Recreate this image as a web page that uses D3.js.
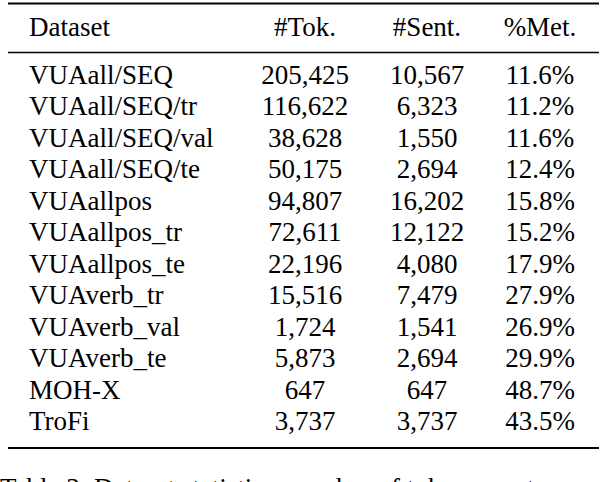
<!DOCTYPE html>
<html lang="en">
	<head>
		<meta charset="utf-8">
		<title>Dataset statistics</title>
		<script type="text/javascript" src="https://cdn.jsdelivr.net/npm/d3@7"></script>
		<style>
			body { margin: 0; background: white; }
			svg text { font-family: "Liberation Serif", "Times New Roman", serif; fill: black; }
		</style>
	</head>
	<body>
		<script type="text/javascript">
			// table data
			var headers = ["Dataset", "#Tok.", "#Sent.", "%Met."];
			var datasets = ["VUAall/SEQ", "VUAall/SEQ/tr", "VUAall/SEQ/val", "VUAall/SEQ/te",
				"VUAallpos", "VUAallpos_tr", "VUAallpos_te", "VUAverb_tr", "VUAverb_val",
				"VUAverb_te", "MOH-X", "TroFi"];
			var tokens = [205425, 116622, 38628, 50175, 94807, 72611, 22196, 15516, 1724, 5873, 647, 3737];
			var sentences = [10567, 6323, 1550, 2694, 16202, 12122, 4080, 7479, 1541, 2694, 647, 3737];
			var metRatio = [11.6, 11.2, 11.6, 12.4, 15.8, 15.2, 17.9, 27.9, 26.9, 29.9, 48.7, 43.5];
			var caption = "Table 3:  Dataset statistics, number of tokens, sentences and metaphor";

			var width = 600, height = 482;
			var fontSize = 27;
			var svg = d3.select("body")
						.append("svg")
						.attr("width", width)
						.attr("height", height);

			// row positions (baselines)
			var y = d3.scalePoint()
					  .domain(d3.range(datasets.length))
					  .range([84, 430]);
			// column anchors: left edge for the first, centres for the rest
			var x = d3.scaleOrdinal()
					  .domain(headers)
					  .range([29, 305, 427, 540]);

			var fmtInt = d3.format(",");
			var rows = datasets.map(function(d, i) {
				return [d, fmtInt(tokens[i]), fmtInt(sentences[i]), metRatio[i].toFixed(1) + "%"];
			});

			// booktabs style rules
			var ruleX1 = 8, ruleX2 = 599;
			svg.append("line").attr("x1", ruleX1).attr("x2", ruleX2)
				.attr("y1", 3.5).attr("y2", 3.5)
				.attr("stroke", "black").attr("stroke-width", 2.2);
			svg.append("line").attr("x1", ruleX1).attr("x2", ruleX2)
				.attr("y1", 52.5).attr("y2", 52.5)
				.attr("stroke", "black").attr("stroke-width", 1.4);
			svg.append("line").attr("x1", ruleX1).attr("x2", ruleX2)
				.attr("y1", 448).attr("y2", 448)
				.attr("stroke", "black").attr("stroke-width", 2.2);

			// header
			svg.selectAll("text.header")
				.data(headers)
				.enter()
				.append("text")
				.attr("class", "header")
				.attr("x", function(d) { return x(d); })
				.attr("y", 36)
				.attr("font-size", fontSize)
				.attr("text-anchor", function(d, i) { return i == 0 ? "start" : "middle"; })
				.text(function(d) { return d; });

			// body cells
			var rowG = svg.selectAll("g.row")
				.data(rows)
				.enter()
				.append("g")
				.attr("class", "row")
				.attr("transform", function(d, i) { return "translate(0," + y(i) + ")"; });
			rowG.selectAll("text")
				.data(function(d) { return d; })
				.enter()
				.append("text")
				.attr("x", function(d, j) { return x(headers[j]); })
				.attr("y", 0)
				.attr("font-size", fontSize)
				.attr("text-anchor", function(d, j) { return j == 0 ? "start" : "middle"; })
				.text(function(d) { return d; });

			// caption, only its top shows at the bottom edge
			svg.append("text")
				.attr("x", 0)
				.attr("y", 497)
				.attr("font-size", fontSize)
				.attr("fill", "#333")
				.text(caption);
		</script>
	</body>
</html>
